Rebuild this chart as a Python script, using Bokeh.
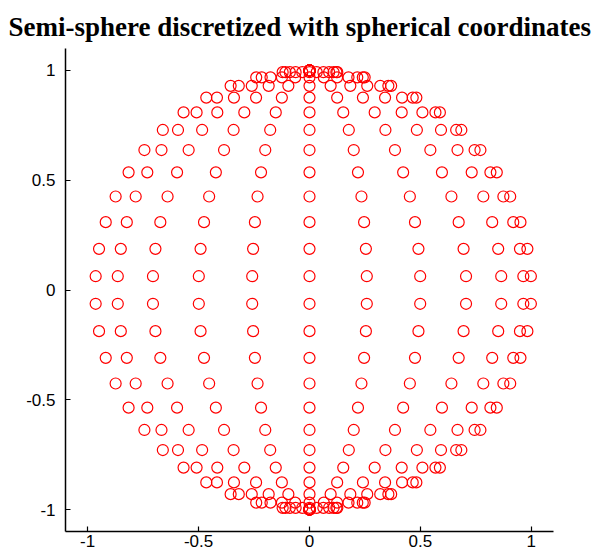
import numpy as np
from bokeh.plotting import figure
from bokeh.models import Range1d, FixedTicker
from bokeh.embed import file_html
from bokeh.resources import INLINE

# ---- data ----
title_text = "Semi-sphere discretized with spherical coordinates"

# elevation angles of the latitude rows (degrees)
elevation_deg = [-90.0, -82.8, -75.6, -68.4, -61.2, -54.0, -46.8, -39.6, -32.4,
                 -25.2, -18.0, -10.8, -3.6, 3.6, 10.8, 18.0, 25.2, 32.4, 39.6,
                 46.8, 54.0, 61.2, 68.4, 75.6, 82.8, 90.0]
# azimuth angles of the meridians of the semi-sphere (degrees)
azimuth_deg = [0, 15, 30, 45, 60, 75, 90, 105, 120, 135, 150, 165]

x_ticks = [-1, -0.5, 0, 0.5, 1]
x_tick_labels = ["-1", "-0.5", "0", "0.5", "1"]
y_ticks = [-1, -0.5, 0, 0.5, 1]
y_tick_labels = ["-1", "-0.5", "0", "0.5", "1"]

# spherical -> cartesian (projection on the x-z plane)
el = np.radians(elevation_deg)
az = np.radians(azimuth_deg)
E, A = np.meshgrid(el, az)
xs = (np.cos(E) * np.cos(A)).ravel()
zs = np.sin(E).ravel()

p = figure(width=597, height=550, output_backend="svg", toolbar_location=None,
           x_range=Range1d(-1.1, 1.1), y_range=Range1d(-1.1, 1.1),
           min_border_left=65, min_border_right=44, min_border_top=48,
           min_border_bottom=19, background_fill_color="white")

p.title.text = title_text
p.title.align = "left"
p.title.offset = -57
p.title.vertical_align = "top"
p.title.standoff = 10
p.title.text_font = "Liberation Serif"
p.title.text_font_size = "27px"
p.title.text_font_style = "bold"
p.title.text_color = "black"

p.scatter(xs, zs, marker="circle", size=11, fill_color=None,
          line_color="#ff0000", line_width=1.2)

p.grid.visible = False
p.outline_line_color = None

for ax, ticks, labels in ((p.xaxis[0], x_ticks, x_tick_labels),
                          (p.yaxis[0], y_ticks, y_tick_labels)):
    ax.ticker = FixedTicker(ticks=ticks)
    ax.major_label_overrides = {t: l for t, l in zip(ticks, labels)}
    ax.minor_tick_line_color = None
    ax.major_tick_in = 5
    ax.major_tick_out = 0
    ax.axis_line_color = "black"
    ax.axis_line_width = 1.5
    ax.major_tick_line_color = "black"
    ax.major_tick_line_width = 1.2
    ax.major_label_text_font = "Liberation Sans"
    ax.major_label_text_font_size = "17px"
    ax.major_label_text_color = "black"

p.xaxis[0].major_label_standoff = 3
p.yaxis[0].major_label_standoff = 10

open("out.html", "w").write(file_html(p, INLINE))
